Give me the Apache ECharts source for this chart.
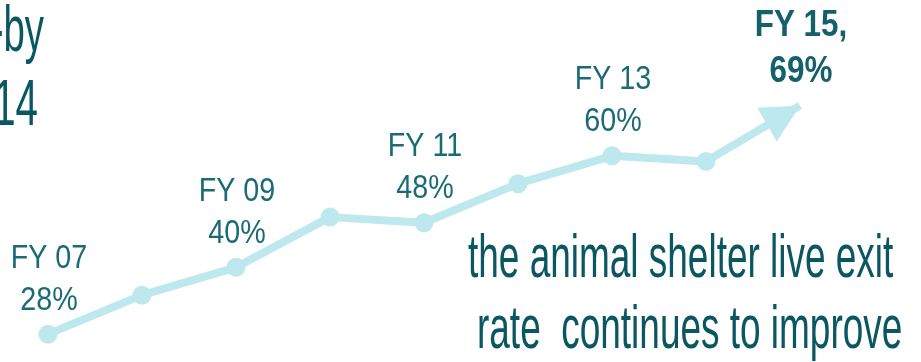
<!DOCTYPE html>
<html>
<head>
<meta charset="utf-8">
<script src="https://cdn.jsdelivr.net/npm/echarts@6/dist/echarts.min.js"></script>
<style>
  html, body { margin: 0; padding: 0; background: #ffffff; }
  #chart { width: 921px; height: 362px; }
</style>
</head>
<body>
<div id="chart"></div>
<script>
// Fiscal years and live exit rate (%)
const fiscalYears = ['FY 07', 'FY 08', 'FY 09', 'FY 10', 'FY 11', 'FY 12', 'FY 13', 'FY 14', 'FY 15'];
const liveExitRate = [28, 35, 40, 49, 48, 55, 60, 59, 69];
// Years that carry a call-out label
const calloutYears = ['FY 07', 'FY 09', 'FY 11', 'FY 13', 'FY 15'];
const headlineLines = ['the animal shelter live exit', 'rate  continues to improve'];
const titleTail = ['-by', '14'];

const LINE_COLOR = '#bde8ee';
const LABEL_COLOR = '#1b6b76';
const TEXT_COLOR = '#0a5761';
const SANS = "'Liberation Sans', Arial, sans-serif";

const lastIdx = fiscalYears.length - 1;

const lineData = liveExitRate.map((v, i) => {
  if (i !== lastIdx) return v;
  // arrow head at the final year, tip resting on the data point
  return {
    value: v,
    symbol: 'triangle',
    symbolSize: [39, 38],
    symbolRotate: -60,
    symbolOffset: [-16.5, 9.5]
  };
});

const chart = echarts.init(document.getElementById('chart'), null, { renderer: 'canvas' });

chart.setOption({
  animation: false,
  backgroundColor: '#ffffff',
  grid: { left: 48, right: 121, top: 72.2, bottom: 11.1, containLabel: false },
  xAxis: {
    type: 'category',
    data: fiscalYears,
    boundaryGap: false,
    show: false
  },
  yAxis: {
    type: 'value',
    min: 25,
    max: 75,
    show: false,
    splitLine: { show: false }
  },
  series: [
    {
      type: 'line',
      data: lineData,
      showAllSymbol: true,
      symbol: 'circle',
      symbolSize: 19,
      lineStyle: { color: LINE_COLOR, width: 8 },
      itemStyle: { color: LINE_COLOR },
      z: 2
    }
  ]
});

// Narrow-set text helper: scaled horizontally around its anchor
function narrowText(x, y, text, font, fill, align, scaleX, lineHeight) {
  return {
    type: 'text', x: x, y: y, scaleX: scaleX, scaleY: 1, z: 10,
    style: {
      text: text, x: 0, y: 0, fill: fill, font: font,
      align: align, verticalAlign: 'middle', lineHeight: lineHeight
    }
  };
}

// Call-outs above the labelled years, placed from the axis scales
const callouts = calloutYears.map(y => {
  const i = fiscalYears.indexOf(y);
  const [px, py] = chart.convertToPixel({ seriesIndex: 0 }, [i, liveExitRate[i]]);
  const isLast = i === lastIdx;
  const text = isLast ? (y + ',\n' + liveExitRate[i] + '%') : (y + '\n' + liveExitRate[i] + '%');
  if (isLast) {
    return narrowText(px + 1, py - 57, text, 'bold 37px ' + SANS, '#14606b', 'center', 0.85, 46);
  }
  return narrowText(px + 1, py - 54.5, text, '33px ' + SANS, LABEL_COLOR, 'center', 0.87, 42);
});

chart.setOption({
  graphic: [
    narrowText(468, 260, headlineLines[0], '61px ' + SANS, TEXT_COLOR, 'left', 0.606, 61),
    narrowText(477, 331, headlineLines[1], '61px ' + SANS, TEXT_COLOR, 'left', 0.606, 61),
    narrowText(44, 33, titleTail[0], '64px ' + SANS, TEXT_COLOR, 'right', 0.6, 64),
    narrowText(38, 107, titleTail[1], '65px ' + SANS, TEXT_COLOR, 'right', 0.62, 65)
  ].concat(callouts)
});
</script>
</body>
</html>
